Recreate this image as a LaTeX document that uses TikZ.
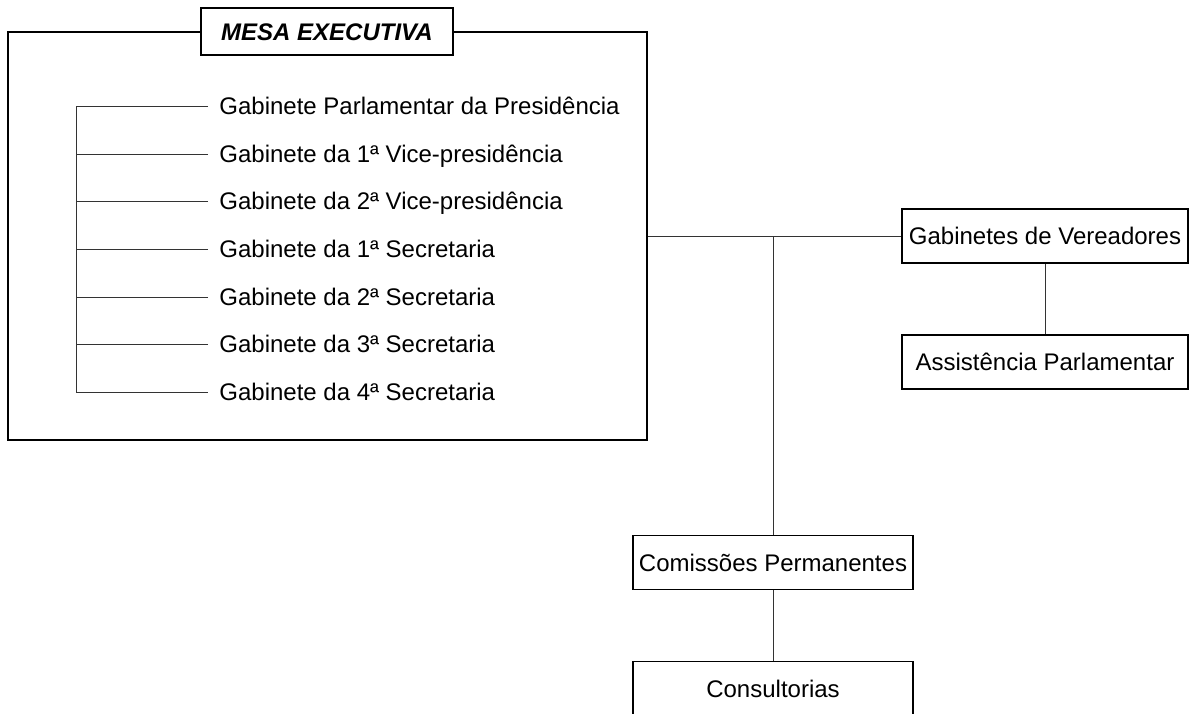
\documentclass[tikz,border=0pt]{standalone}
\usepackage{fontspec}
\setmainfont{Liberation Sans}
\begin{document}
\begin{tikzpicture}[x=0.5pt,y=-0.5pt]
\tikzstyle{every node}=[font=\fontsize{12}{14}\selectfont,text height=8.6pt,text depth=0pt]
\tikzstyle{caixa}=[draw,line width=0.75pt,fill=white,minimum width=143pt,minimum height=27pt,inner sep=0pt]
\tikzstyle{item}=[anchor=west,inner sep=5.5pt]
\tikzstyle{liga}=[line width=0.5pt,black!80]
\useasboundingbox (0,0) rectangle (1199,713);

\node[draw,line width=0.75pt,minimum width=319.5pt,minimum height=204pt](mesa) at (327.5,236) {};
\node[caixa,minimum width=126pt,minimum height=23.5pt,font=\fontsize{12}{14}\selectfont\bfseries\itshape](tit) at (327,31.5) {MESA EXECUTIVA};

\node[item](g1) at (208,106) {Gabinete Parlamentar da Presidência};
\node[item](g2) at (208,154) {Gabinete da 1ª Vice-presidência};
\node[item](g3) at (208,201) {Gabinete da 2ª Vice-presidência};
\node[item](g4) at (208,249) {Gabinete da 1ª Secretaria};
\node[item](g5) at (208,297) {Gabinete da 2ª Secretaria};
\node[item](g6) at (208,344) {Gabinete da 3ª Secretaria};
\node[item](g7) at (208,392) {Gabinete da 4ª Secretaria};
\coordinate (e1) at (76,106);
\draw[liga] (g1.west) -- (e1) |- (g7.west);
\draw[liga] (g2.west) -- (g2.west -| e1);
\draw[liga] (g3.west) -- (g3.west -| e1);
\draw[liga] (g4.west) -- (g4.west -| e1);
\draw[liga] (g5.west) -- (g5.west -| e1);
\draw[liga] (g6.west) -- (g6.west -| e1);

\node[caixa](gv) at (1045,236) {Gabinetes de Vereadores};
\node[caixa](ap) at (1045,362) {Assistência Parlamentar};
\node[caixa,minimum width=140pt](cp) at (773,562.5) {Comissões Permanentes};
\node[caixa,minimum width=140pt](co) at (773,688.5) {Consultorias};
\coordinate (j1) at (cp.north |- mesa.east);

\draw[liga] (mesa.east) -- (gv.west);
\draw[liga] (j1) -- (cp.north);
\draw[liga] (gv) -- (ap);
\draw[liga] (cp) -- (co);
\end{tikzpicture}
\end{document}
